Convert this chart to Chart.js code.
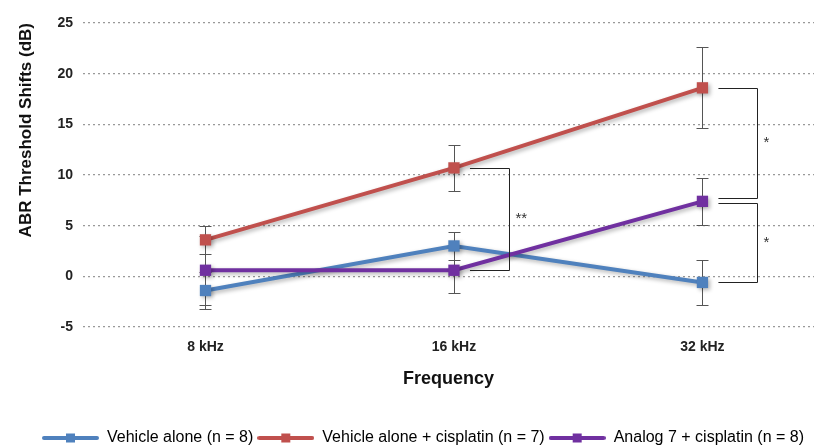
<!DOCTYPE html>
<html>
<head>
<meta charset="utf-8">
<script src="https://cdn.jsdelivr.net/npm/chart.js@4"></script>
<style>
  html, body { margin: 0; padding: 0; background: #fff; overflow: hidden; }
  #wrap { width: 814px; height: 447px; }
</style>
</head>
<body>
<div id="wrap"><canvas id="abr-chart"></canvas></div>
<script>
var freqLabels = ["8 kHz", "16 kHz", "32 kHz"];
var yTicks = [-5, 0, 5, 10, 15, 20, 25];

var seriesNames = ["Vehicle alone (n = 8)", "Vehicle alone + cisplatin (n = 7)", "Analog 7 + cisplatin (n = 8)"];
var vehicleAlone = [-1.4, 3.0, -0.6];
var vehicleCisplatin = [3.6, 10.7, 18.6];
var analogCisplatin = [0.6, 0.6, 7.4];

// error bar half-widths (dB)
var vehicleAloneErr = [1.8, 1.4, 2.2];
var vehicleCisplatinErr = [1.4, 2.3, 4.0];
var analogCisplatinErr = [3.4, 2.2, 2.35];

// significance brackets: [dataset a, dataset b, category index, label]
var brackets = [
    [1, 2, 1, "**"],
    [1, 2, 2, "*"],
    [2, 0, 2, "*"]
];

var colors = ['#4F81BD', '#C0504D', '#7030A0'];
var allValues = [vehicleAlone, vehicleCisplatin, analogCisplatin];
var allErrors = [vehicleAloneErr, vehicleCisplatinErr, analogCisplatinErr];

var fontFamily = '"Liberation Sans", Arial, sans-serif';

function toPoints(arr) {
    return arr.map(function (v, i) { return { x: i, y: v }; });
}

// line with a square, used as the legend marker
function legendMarker(color) {
    var c = document.createElement('canvas');
    c.width = 57; c.height = 12;
    var g = c.getContext('2d');
    g.strokeStyle = color;
    g.lineWidth = 4;
    g.lineCap = 'round';
    g.beginPath(); g.moveTo(2, 6); g.lineTo(55, 6); g.stroke();
    g.fillStyle = color;
    g.fillRect(24, 1.5, 9, 9);
    return c;
}
var markers = colors.map(legendMarker);

var errorBars = {
    id: 'errorBars',
    beforeDatasetsDraw: function (chart) {
        var ctx = chart.ctx, xs = chart.scales.x, ys = chart.scales.y;
        ctx.save();
        ctx.strokeStyle = '#555';
        ctx.lineWidth = 1;
        allValues.forEach(function (vals, d) {
            vals.forEach(function (v, i) {
                var x = Math.round(xs.getPixelForValue(i)) + 0.5;
                var top = Math.round(ys.getPixelForValue(v + allErrors[d][i])) + 0.5;
                var bot = Math.round(ys.getPixelForValue(v - allErrors[d][i])) + 0.5;
                ctx.beginPath();
                ctx.moveTo(x, top); ctx.lineTo(x, bot);
                ctx.moveTo(x - 6, top); ctx.lineTo(x + 6, top);
                ctx.moveTo(x - 6, bot); ctx.lineTo(x + 6, bot);
                ctx.stroke();
            });
        });
        ctx.restore();
    }
};

var shadow = {
    id: 'shadow',
    beforeDatasetDraw: function (chart) {
        var ctx = chart.ctx;
        ctx.save();
        ctx.shadowColor = 'rgba(0,0,0,0.3)';
        ctx.shadowBlur = 4;
        ctx.shadowOffsetX = 2;
        ctx.shadowOffsetY = 2;
    },
    afterDatasetDraw: function (chart) {
        chart.ctx.restore();
    }
};

var sigBrackets = {
    id: 'sigBrackets',
    afterDatasetsDraw: function (chart) {
        var ctx = chart.ctx, xs = chart.scales.x, ys = chart.scales.y;
        ctx.save();
        ctx.strokeStyle = '#222';
        ctx.lineWidth = 1;
        ctx.fillStyle = '#333';
        ctx.font = '15px ' + fontFamily;
        ctx.textAlign = 'left';
        ctx.textBaseline = 'middle';
        brackets.forEach(function (b) {
            var i = b[2];
            var x = xs.getPixelForValue(i);
            var a = Math.round(ys.getPixelForValue(allValues[b[0]][i]));
            var bb = Math.round(ys.getPixelForValue(allValues[b[1]][i]));
            // keep the two stacked brackets at 32 kHz apart
            if (i === 2 && b[0] === 1) { bb -= 3; }
            if (i === 2 && b[0] === 2) { a += 2; }
            var x0 = x + 16, x1 = Math.round(x + 55) + 0.5;
            ctx.beginPath();
            ctx.moveTo(x0, a + 0.5); ctx.lineTo(x1, a + 0.5);
            ctx.lineTo(x1, bb + 0.5); ctx.lineTo(x0, bb + 0.5);
            ctx.stroke();
            ctx.fillText(b[3], x1 + 6, (a + bb) / 2);
        });
        ctx.restore();
    }
};

var ctx = document.getElementById('abr-chart').getContext('2d');
var chart = new Chart(ctx, {
    type: 'line',
    data: {
        datasets: allValues.map(function (vals, d) {
            return {
                label: seriesNames[d],
                data: toPoints(vals),
                borderColor: colors[d],
                backgroundColor: colors[d],
                borderWidth: 4,
                pointStyle: 'rect',
                pointRadius: 8,
                pointHoverRadius: 8,
                pointBorderWidth: 0,
                tension: 0,
                order: 2 - d
            };
        })
    },
    plugins: [errorBars, shadow, sigBrackets],
    options: {
        responsive: true,
        maintainAspectRatio: false,
        animation: false,
        events: [],
        layout: { autoPadding: false, padding: { top: 23, right: 0, left: 32, bottom: -9 } },
        scales: {
            x: {
                type: 'linear',
                min: -0.493,
                max: 2.449,
                afterBuildTicks: function (s) {
                    s.ticks = freqLabels.map(function (l, i) { return { value: i }; });
                },
                afterFit: function (s) {
                    s.height = 99;
                    s.paddingLeft = 0;
                    s.paddingRight = 0;
                },
                ticks: {
                    callback: function (v) { return freqLabels[v]; },
                    color: '#222',
                    font: { family: fontFamily, size: 14, weight: 'bold' },
                    padding: 4,
                    maxRotation: 0
                },
                grid: { display: false },
                border: { display: false },
                title: {
                    display: true,
                    text: 'Frequency',
                    color: '#111',
                    font: { family: fontFamily, size: 18, weight: 'bold' },
                    padding: { top: 8, bottom: 36 }
                }
            },
            y: {
                min: -5,
                max: 25,
                afterBuildTicks: function (s) {
                    s.ticks = yTicks.map(function (v) { return { value: v }; });
                },
                afterFit: function (s) { s.width = 51; },
                ticks: {
                    color: '#222',
                    font: { family: fontFamily, size: 14, weight: 'bold' },
                    padding: 10
                },
                grid: {
                    color: '#999',
                    lineWidth: 1.3,
                    drawTicks: false
                },
                border: { display: false, dash: [2, 3] },
                title: {
                    display: true,
                    align: 'end',
                    text: 'ABR Threshold Shifts (dB)',
                    color: '#111',
                    font: { family: fontFamily, size: 17, weight: 'bold' },
                    padding: { top: -16, bottom: 4 }
                }
            }
        },
        plugins: {
            legend: {
                position: 'bottom',
                labels: {
                    usePointStyle: true,
                    pointStyleWidth: 57,
                    color: '#333',
                    font: { family: fontFamily, size: 16 },
                    padding: 4,
                    generateLabels: function (chart) {
                        return chart.data.datasets.map(function (ds, i) {
                            return {
                                text: ds.label,
                                fillStyle: colors[i],
                                strokeStyle: colors[i],
                                lineWidth: 0,
                                pointStyle: markers[i],
                                hidden: false,
                                datasetIndex: i
                            };
                        });
                    }
                }
            },
            tooltip: { enabled: false }
        }
    }
});
</script>
</body>
</html>
